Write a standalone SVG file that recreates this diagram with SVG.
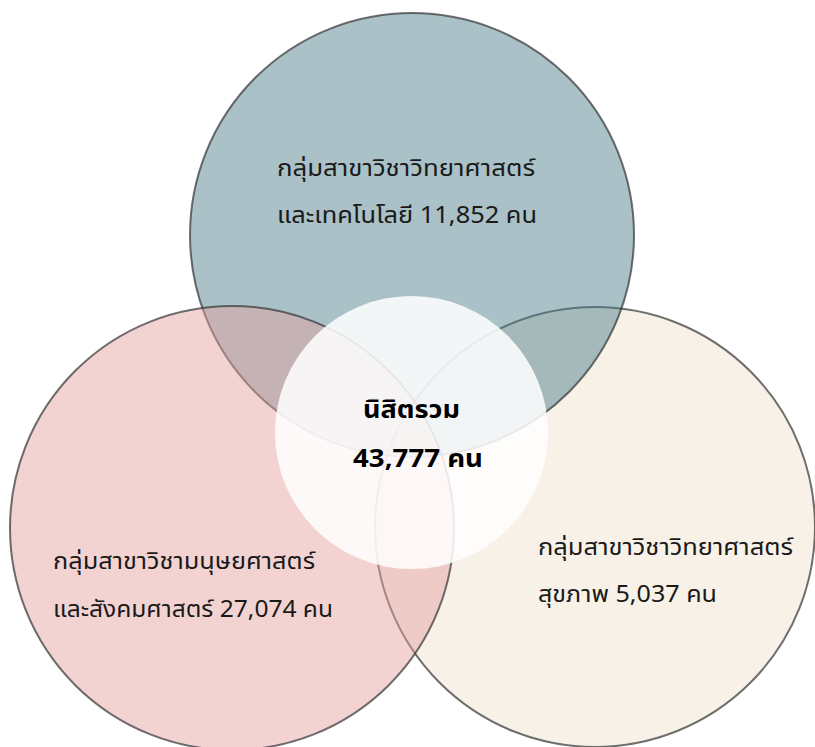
<svg xmlns="http://www.w3.org/2000/svg" width="815" height="747" viewBox="0 0 815 747">
<style>
.c{stroke:#333;stroke-opacity:0.7;stroke-width:2}
.t{font-family:"Noto Sans Thai","Leelawadee UI",Tahoma,"Noto Sans","DejaVu Sans",sans-serif;font-size:23px;fill:#1a1a1a}
.b{font-family:"Noto Sans Thai","Leelawadee UI",Tahoma,"Noto Sans","DejaVu Sans",sans-serif;font-size:25px;font-weight:bold;fill:#000}
</style>
<rect width="815" height="747" fill="#ffffff"/>
<g id="health">
<circle class="c" cx="595" cy="527" r="220" fill="rgb(238,225,206)" fill-opacity="0.465"/>
</g>
<g id="science">
<circle class="c" cx="412" cy="235" r="222" fill="rgb(70,122,135)" fill-opacity="0.465"/>
</g>
<g id="humanities">
<circle class="c" cx="232" cy="528" r="222" fill="rgb(227,160,158)" fill-opacity="0.465"/>
</g>
<g id="total">
<circle cx="411.5" cy="432.5" r="136.5" fill="#ffffff" fill-opacity="0.86"/>
</g>
<g id="labels">
<text class="t" x="277" y="176" textLength="258" lengthAdjust="spacingAndGlyphs">กลุ่มสาขาวิชาวิทยาศาสตร์</text>
<text class="t" x="277" y="223" textLength="260" lengthAdjust="spacingAndGlyphs">และเทคโนโลยี 11,852 คน</text>
<text class="t" x="53" y="569" textLength="262" lengthAdjust="spacingAndGlyphs">กลุ่มสาขาวิชามนุษยศาสตร์</text>
<text class="t" x="53" y="617" textLength="280" lengthAdjust="spacingAndGlyphs">และสังคมศาสตร์ 27,074 คน</text>
<text class="t" x="538" y="555" textLength="255" lengthAdjust="spacingAndGlyphs">กลุ่มสาขาวิชาวิทยาศาสตร์</text>
<text class="t" x="538" y="602" textLength="179" lengthAdjust="spacingAndGlyphs">สุขภาพ 5,037 คน</text>
<text class="b" x="363" y="418" textLength="97" lengthAdjust="spacingAndGlyphs">นิสิตรวม</text>
<text class="b" x="353" y="467" textLength="130" lengthAdjust="spacingAndGlyphs">43,777 คน</text>
</g>
</svg>
